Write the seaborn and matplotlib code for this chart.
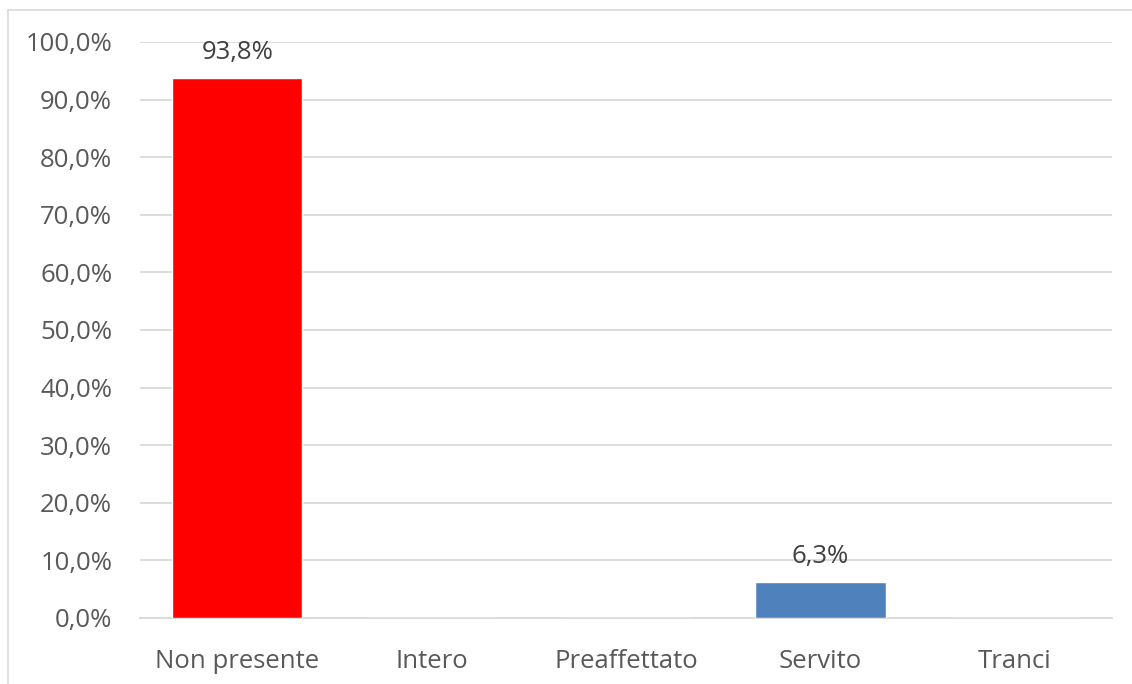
import matplotlib
matplotlib.use("Agg")
import matplotlib.pyplot as plt
from matplotlib.lines import Line2D
from matplotlib.ticker import FuncFormatter, MultipleLocator
import seaborn as sns
import pandas as pd

categories = ["Non presente", "Intero", "Preaffettato", "Servito", "Tranci"]
values = [93.8, 0.0, 0.0, 6.3, 0.0]
bar_colors = ["#FF0000", "#4F81BD", "#4F81BD", "#4F81BD", "#4F81BD"]
value_labels = ["93,8%", "", "", "6,3%", ""]

sns.set_theme(style="white")
plt.rcParams["font.family"] = ["Open Sans", "DejaVu Sans"]

df = pd.DataFrame({"categoria": categories, "valore": values})

fig = plt.figure(figsize=(11.32, 6.84), dpi=100)
ax = fig.add_axes([140 / 1132, 1 - 618 / 684, 972 / 1132, 576 / 684])

sns.barplot(data=df, x="categoria", y="valore", hue="categoria",
            palette=bar_colors, width=0.67, legend=False, ax=ax,
            saturation=1, zorder=3)

ax.set_ylim(0, 100)
ax.yaxis.set_major_locator(MultipleLocator(10))
ax.yaxis.set_major_formatter(FuncFormatter(lambda v, _: f"{v:.1f}%".replace(".", ",")))
ax.grid(axis="y", color="#D9D9D9", linewidth=1.3, zorder=0)
ax.set_xlim(-0.5, len(categories) - 0.5)

for side in ["top", "right", "left"]:
    ax.spines[side].set_visible(False)
ax.spines["bottom"].set_color("#D9D9D9")
ax.spines["bottom"].set_linewidth(1.3)

ax.set_xlabel("")
ax.set_ylabel("")
ax.tick_params(axis="both", length=0, labelsize=18.5, labelcolor="#595959")
ax.tick_params(axis="x", pad=22)
ax.tick_params(axis="y", pad=20)

for i, (v, lab) in enumerate(zip(values, value_labels)):
    if lab:
        ax.annotate(lab, (i, v), xytext=(0, 9), textcoords="offset points",
                    ha="center", va="bottom", fontsize=18.5, color="#404040",
                    zorder=4)

# chart frame
fig.add_artist(Line2D([7.5 / 1132, 7.5 / 1132], [0, 1 - 10 / 684],
                      transform=fig.transFigure, color="#D9D9D9", linewidth=1.2))
fig.add_artist(Line2D([7.5 / 1132, 1], [1 - 10 / 684, 1 - 10 / 684],
                      transform=fig.transFigure, color="#D9D9D9", linewidth=1.2))

fig.savefig("out.png", dpi=100, facecolor="white")
